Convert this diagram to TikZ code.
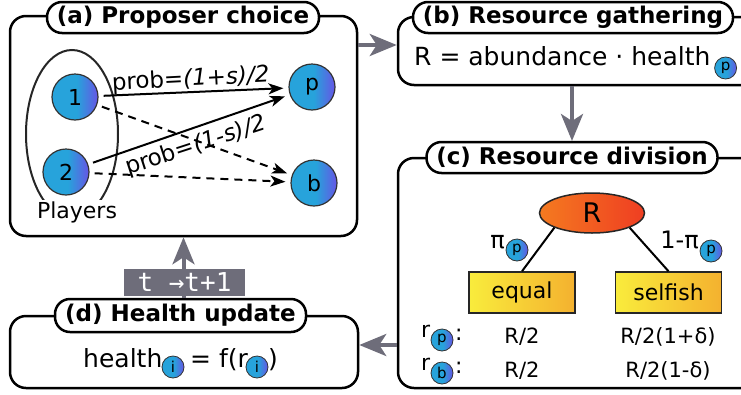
\documentclass[tikz,border=0pt]{standalone}
\usepackage{fontspec}
\setmainfont{DejaVu Sans}[ItalicFont={DejaVu Sans Oblique}, BoldFont={DejaVu Sans Bold}, BoldItalicFont={DejaVu Sans Bold Oblique}]
\setmonofont{DejaVu Sans Mono}
\usetikzlibrary{arrows.meta,shapes.geometric,calc}
\definecolor{arr}{HTML}{6E6D7A}
\definecolor{blueL}{HTML}{27A3DB}
\definecolor{blueR}{HTML}{6655E5}
\definecolor{orL}{HTML}{F47A20}
\definecolor{orR}{HTML}{EF3E22}
\definecolor{yeL}{HTML}{F9EC3C}
\definecolor{yeR}{HTML}{F4B12F}
\pgfdeclarehorizontalshading{ballsh}{100bp}{color(0bp)=(blueL); color(25bp)=(blueL); color(52bp)=(blueL); color(75bp)=(blueR); color(100bp)=(blueR)}
\newcommand\fz[1]{\fontsize{#1}{#1}\selectfont}
\begin{document}
\begin{tikzpicture}[x=1pt,y=-1pt,
  panel/.style={draw=black, line width=2.5pt, rounded corners=16pt, inner sep=0pt},
  pill/.style={draw=black, line width=2.5pt, fill=white, rounded corners=15pt, inner sep=0pt, font=\fz{23}\bfseries},
  ball/.style={circle, draw=black!80, line width=1.2pt, shade, shading=ballsh, minimum size=46pt, inner sep=0pt, font=\fz{22}},
  bub/.style={circle, draw=black!80, line width=0.8pt, shade, shading=ballsh, minimum size=22pt, inner sep=0pt, font=\fz{15}},
  txt/.style={inner sep=0pt, font=\fz{22}},
  flow/.style={draw=arr, line width=4pt, -{Stealth[length=27pt, width=22pt, inset=7pt]}},
  pr/.style={line width=2pt, -{Stealth[length=15pt, width=11pt, inset=4pt]}, shorten <=5pt, shorten >=5pt},
  plab/.style={inner sep=0pt, font=\fz{23}},
  ybox/.style={draw=black!85, line width=1.5pt, left color=yeL, right color=yeR, minimum width=106pt, minimum height=41pt, inner sep=0pt, font=\fz{22}},
]
\clip (0,0) rectangle (741,394);

% panels
\node[panel, minimum width=347pt, minimum height=220pt] (A) at (183.5,126) {};
\node[panel, minimum width=362pt, minimum height=68pt] (B) at (579,51) {};
\node[panel, minimum width=362pt, minimum height=230pt] (C) at (579,273) {};
\node[panel, minimum width=348pt, minimum height=72pt] (D) at (184,352) {};

% flow arrows
\draw[flow] (A.east |- 0,45) -- (B.west |- 0,45);
\coordinate (ctop) at (572,141);
\draw[flow] (B.south -| ctop) -- (ctop);
\draw[flow] (C.west |- 0,345) -- (D.east |- 0,345);

% pills
\node[pill, minimum width=272pt, minimum height=31pt] (at) at (183,17.5) {(a) Proposer choice};
\node[pill, minimum width=320pt, minimum height=31pt] (bt) at (573,17.5) {(b) Resource gathering};
\node[pill, minimum width=291pt, minimum height=31pt] (ct) at (572,157.5) {(c) Resource division};
\node[pill, minimum width=251pt, minimum height=33pt] (dt) at (180.5,315.5) {(d) Health update};

\draw[flow] (dt.north -| A.south) -- (A.south);
\node[fill=arr, text=white, font=\ttfamily\fz{26}, minimum width=121pt, minimum height=27pt, inner sep=0pt] (tl) at (184.5,282.5) {t →t+1};

% panel (a)
\node[ellipse, draw=black!85, line width=2pt, minimum width=92pt, minimum height=168pt, inner sep=0pt] (pl) at (72,134) {};
\node[fill=white, inner sep=1pt, font=\fz{22}, anchor=base] (plt) at (77,218) {Players};
\node[ball] (n1) at (75,97) {1};
\node[ball] (n2) at (66,172) {2};
\node[ball] (np) at (312,87) {p};
\node[ball] (nb) at (314,183) {b};
\draw[pr] (n1) -- (np);
\draw[pr] (n2) -- (np);
\draw[pr, dashed, dash pattern=on 8pt off 6pt] (n1) -- (nb);
\draw[pr, dashed, dash pattern=on 8pt off 6pt] (n2) -- (nb);
\node[plab, rotate=3, anchor=base] (l1) at (191,86) {prob=\textit{(1+s)/2}};
\node[plab, rotate=18] (l2) at (196,146) {prob=\textit{(1-s)/2}};

% panel (b)
\node[txt, font=\fz{25}, anchor=base west] (rb) at (414,65) {R = abundance · health};
\node[bub] (bp) at ($(rb.base east)+(15,3)$) {p};

% panel (c)
\node[ellipse, draw=black!85, line width=1.5pt, left color=orL, right color=orR, minimum width=105pt, minimum height=40pt, inner sep=0pt, font=\fz{27}] (R) at (592,213) {R};
\node[ybox] (eq) at (522,292.5) {equal};
\node[ybox] (sf) at (668.5,292.5) {selfish};
\draw[line width=2pt] (R.south west) -- (eq.north);
\draw[line width=2pt] (R.south east) -- (sf.north);
\node[txt, font=\fz{24}, anchor=base east] (pi1) at (505,248) {π};
\node[bub] (pb1) at ($(pi1.base east)+(12,2)$) {p};
\node[txt, font=\fz{24}, anchor=base east] (pi2) at (699,248) {1-π};
\node[bub] (pb2) at ($(pi2.base east)+(12,3)$) {p};

\node[txt, anchor=base west] (rp) at (421,337) {r};
\node[bub] (rpb) at (442,340) {p};
\node[txt, anchor=base west] (rpc) at (455,340) {:};
\node[txt, anchor=base west] (rbl) at (421,370) {r};
\node[bub] (rbb) at (442,373) {b};
\node[txt, anchor=base west] (rbc) at (455,373) {:};
\node[txt, font=\fz{21}, anchor=base] (v1) at (522,343) {R/2};
\node[txt, font=\fz{21}, anchor=base] (v2) at (668,343) {R/2(1+δ)};
\node[txt, font=\fz{21}, anchor=base] (v3) at (522,377) {R/2};
\node[txt, font=\fz{21}, anchor=base] (v4) at (668,377) {R/2(1-δ)};

% panel (d)
\node[txt, font=\fz{25}, anchor=base west] (hd) at (83,367) {health};
\node[bub] (i1) at (173,367) {i};
\node[txt, font=\fz{25}, anchor=base west] (eqf) at (190,367) {= f(r};
\node[bub] (i2) at (257,367) {i};
\node[txt, font=\fz{25}, anchor=base west] (cl) at (268,367) {)};
\end{tikzpicture}
\end{document}
